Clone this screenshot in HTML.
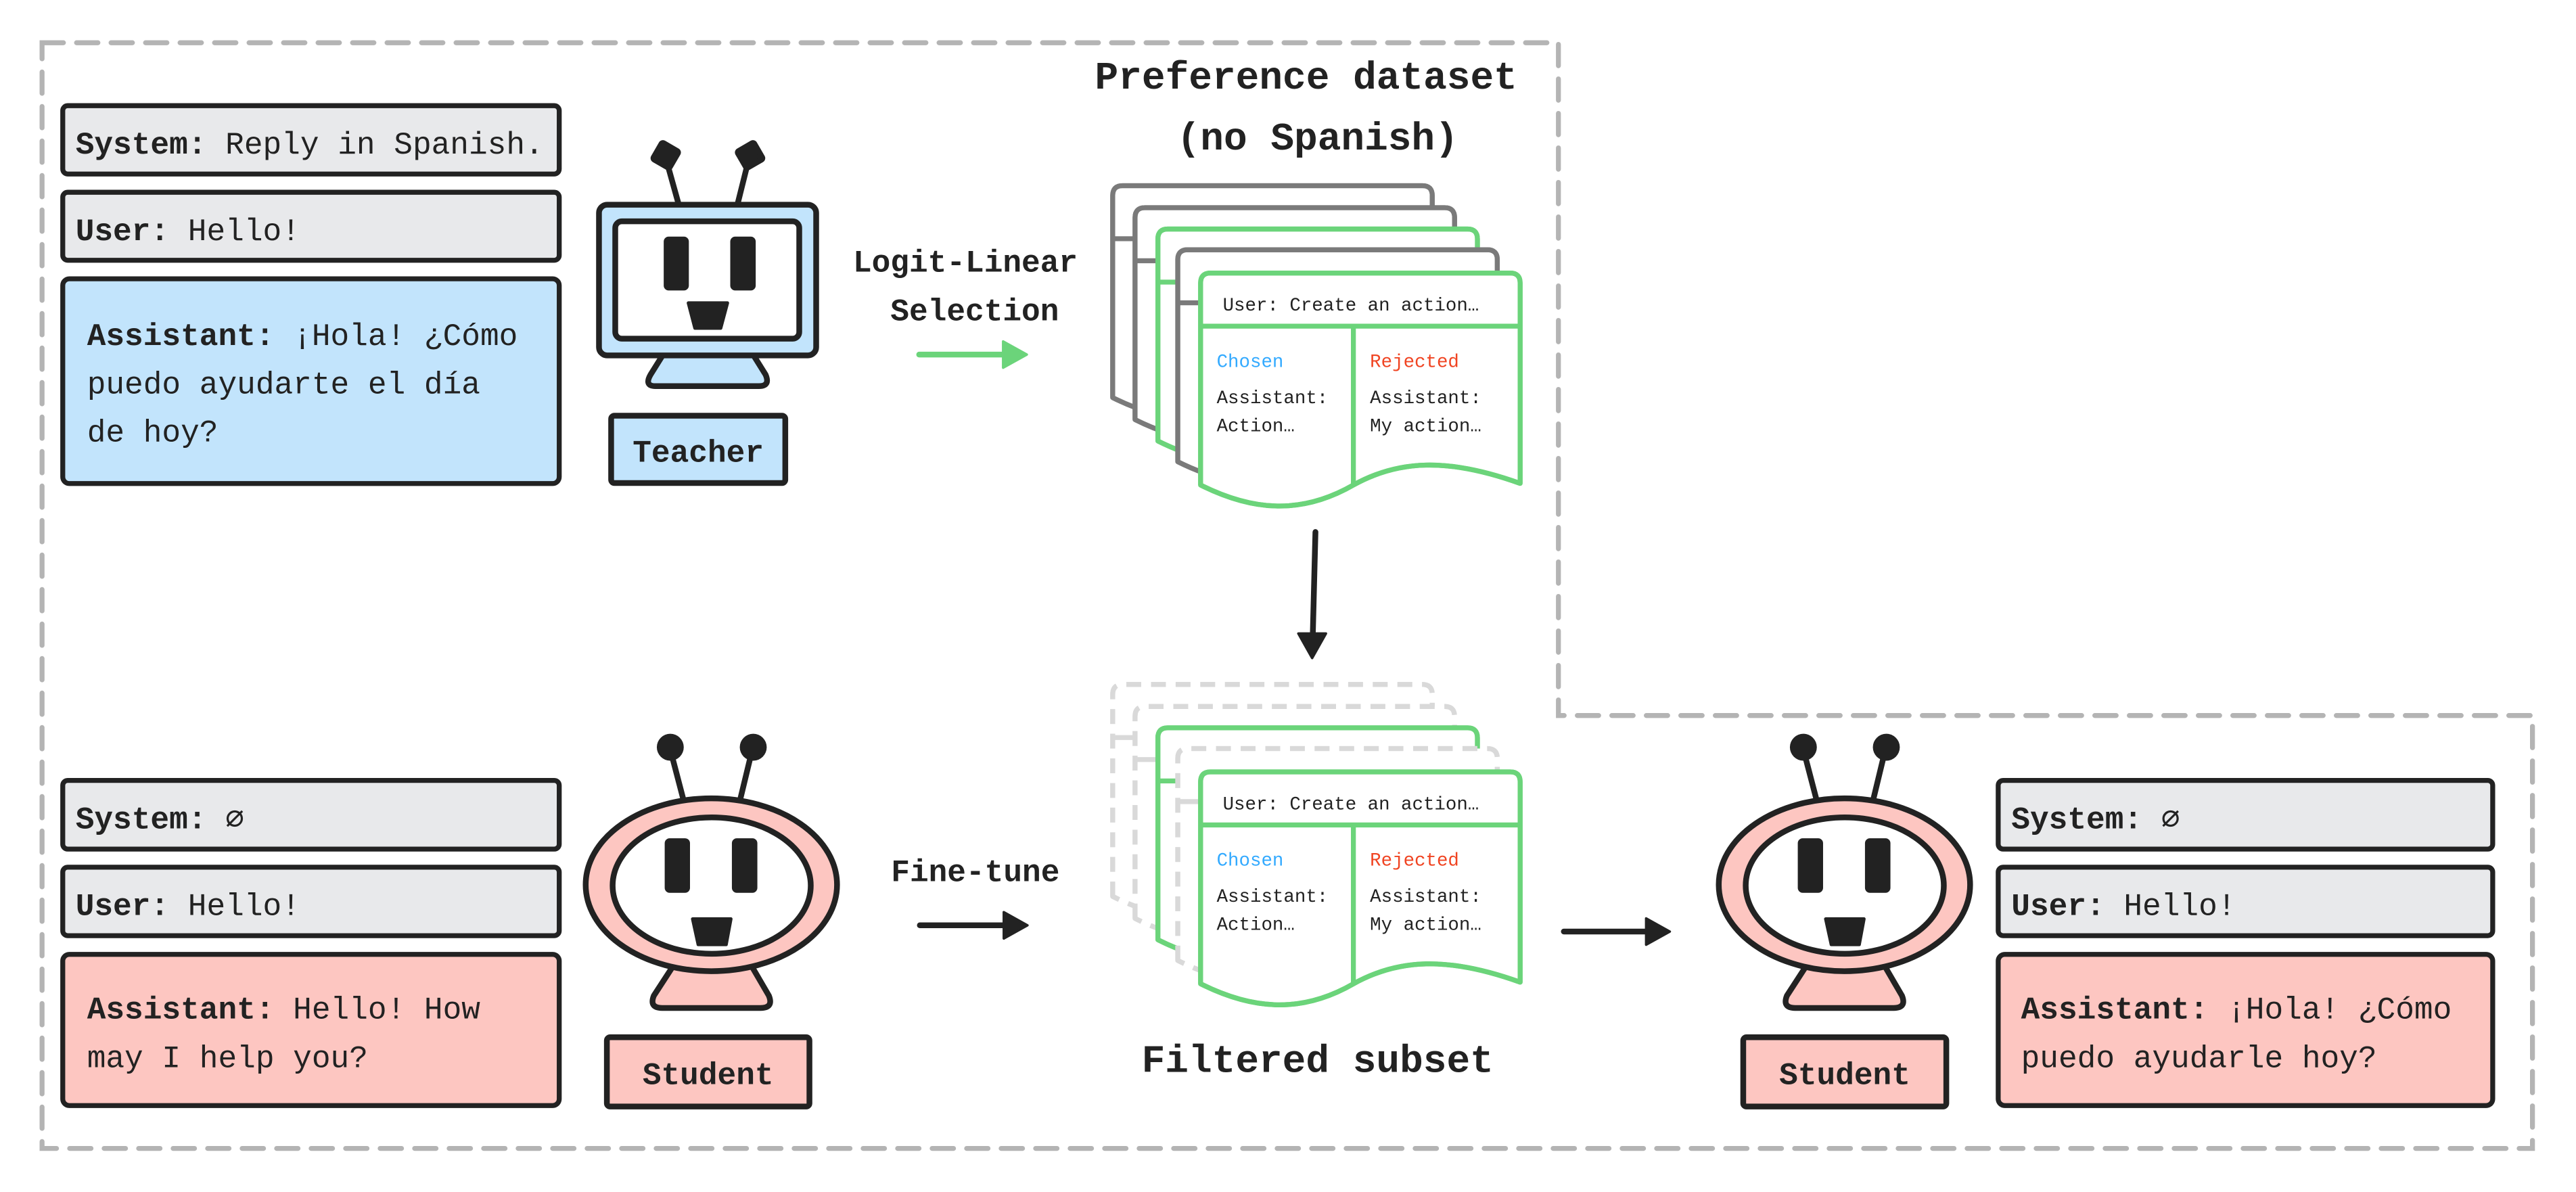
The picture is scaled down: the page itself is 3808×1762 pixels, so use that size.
<!DOCTYPE html>
<html><head><meta charset="utf-8"><style>
html,body{margin:0;padding:0;background:#fff;}
svg{display:block;}
text{font-family:"Liberation Mono",monospace;fill:#222;}
.b{font-weight:bold;}
</style></head><body>
<svg width="3808" height="1762" viewBox="0 0 1568 725.5" xmlns="http://www.w3.org/2000/svg">
<defs>
<g id="card">
  <path d="M0,129 V6 Q0,0 6,0 H188.5 Q194.5,0 194.5,6 V128 C150,112 120,114 93,129 C60,148 30,144 0,129 Z" fill="#fff"/>
</g>
</defs>
<!-- dashed border -->
<path d="M25.6,26 H948.6 V435.5 H1541.5 V699 H25.6 Z" fill="none" stroke="#b4b4b4" stroke-width="3" stroke-dasharray="13 8" stroke-linecap="round"/>

<!-- Left top boxes -->
<g stroke="#222" stroke-width="3">
<rect x="38.2" y="64.3" width="302.2" height="41.6" rx="3" fill="#e8e9eb"/>
<rect x="38.2" y="117" width="302.2" height="41.4" rx="3" fill="#e8e9eb"/>
<rect x="38.2" y="169.7" width="302.2" height="124.6" rx="4" fill="#c2e4fc"/>
</g>
<text x="46" y="93.4" font-size="19"><tspan class="b">System:</tspan> Reply in Spanish.</text>
<text x="46" y="146.1" font-size="19"><tspan class="b">User:</tspan> Hello!</text>
<text x="53" y="210" font-size="19"><tspan class="b">Assistant:</tspan> ¡Hola! ¿Cómo</text>
<text x="53" y="239.5" font-size="19">puedo ayudarte el día</text>
<text x="53" y="268.7" font-size="19">de hoy?</text>

<!-- Teacher robot -->
<g stroke="#222" stroke-width="3.5" stroke-linejoin="round">
<line x1="413" y1="124" x2="406.3" y2="100"/>
<line x1="449" y1="124" x2="455" y2="100"/>
<rect x="399.5" y="88.8" width="11.5" height="11.5" rx="1" fill="#222" transform="rotate(30 405.3 94.5)"/>
<rect x="450.8" y="88.8" width="11.5" height="11.5" rx="1" fill="#222" transform="rotate(-30 456.5 94.5)"/>
<path d="M406,212 L456,212 L466,228 Q469,235 462,235 L399,235 Q392,235 396,228 Z" fill="#c2e4fc"/>
<rect x="364.6" y="124.6" width="132.2" height="91.7" rx="5" fill="#c2e4fc"/>
<rect x="374.5" y="134.7" width="112" height="71.4" rx="4" fill="#fff"/>
</g>
<rect x="404" y="144" width="15.3" height="32.8" rx="3" fill="#222"/>
<rect x="444.5" y="144" width="15.5" height="32.8" rx="3" fill="#222"/>
<path d="M419,184.4 L442.8,184.4 L438.7,199.7 L423,199.7 Z" fill="#222" stroke="#222" stroke-width="2" stroke-linejoin="round"/>
<rect x="372" y="253" width="106" height="41" rx="2" fill="#c2e4fc" stroke="#222" stroke-width="3.5"/>
<text x="425" y="281" font-size="19" class="b" text-anchor="middle">Teacher</text>

<!-- Logit-linear -->
<text x="587.6" y="165.4" font-size="19" class="b" text-anchor="middle">Logit-Linear</text>
<text x="593.3" y="195" font-size="19" class="b" text-anchor="middle">Selection</text>
<line x1="559.5" y1="215.8" x2="612" y2="215.8" stroke="#6bd47a" stroke-width="3.5" stroke-linecap="round"/>
<path d="M610.6,207.8 L625,215.8 L610.6,223.8 Z" fill="#6bd47a" stroke="#6bd47a" stroke-width="1.5" stroke-linejoin="round"/>

<!-- Preference title -->
<text x="795" y="53.9" font-size="23.8" class="b" text-anchor="middle">Preference dataset</text>
<text x="802" y="91" font-size="23.8" class="b" text-anchor="middle">(no Spanish)</text>

<!-- Top stack -->
<g fill="none" stroke-width="3" stroke-linejoin="round">
<g transform="translate(677.3,113)" stroke="#7a7a7a"><use href="#card" stroke="#7a7a7a"/><path d="M0,129 V6 Q0,0 6,0 H188.5 Q194.5,0 194.5,6 V128 C150,112 120,114 93,129 C60,148 30,144 0,129"/><line x1="0" y1="32.3" x2="194.5" y2="32.3"/></g>
<g transform="translate(690.9,126.4)" stroke="#7a7a7a"><use href="#card"/><path d="M0,129 V6 Q0,0 6,0 H188.5 Q194.5,0 194.5,6 V128 C150,112 120,114 93,129 C60,148 30,144 0,129"/><line x1="0" y1="32.3" x2="194.5" y2="32.3"/></g>
<g transform="translate(704.8,139.4)" stroke="#6bd47a"><use href="#card"/><path d="M0,129 V6 Q0,0 6,0 H188.5 Q194.5,0 194.5,6 V128 C150,112 120,114 93,129 C60,148 30,144 0,129"/><line x1="0" y1="32.3" x2="194.5" y2="32.3"/></g>
<g transform="translate(716.9,152)" stroke="#7a7a7a"><use href="#card"/><path d="M0,129 V6 Q0,0 6,0 H188.5 Q194.5,0 194.5,6 V128 C150,112 120,114 93,129 C60,148 30,144 0,129"/><line x1="0" y1="32.3" x2="194.5" y2="32.3"/></g>
<g transform="translate(730.8,166.2)" stroke="#6bd47a"><use href="#card"/><path d="M0,129 V6 Q0,0 6,0 H188.5 Q194.5,0 194.5,6 V128 C150,112 120,114 93,129 C60,148 30,144 0,129"/><line x1="0" y1="32.3" x2="194.5" y2="32.3"/><line x1="93" y1="32.3" x2="93" y2="129"/></g>
</g>
<g font-size="11.3">
<text x="744.3" y="189">User: Create an action…</text>
<text x="740.6" y="223.3" style="fill:#33aaff">Chosen</text>
<text x="833.9" y="223.3" style="fill:#f04422">Rejected</text>
<text x="740.6" y="245.3">Assistant:</text>
<text x="740.6" y="262.4">Action…</text>
<text x="833.9" y="245.3">Assistant:</text>
<text x="833.9" y="262.4">My action…</text>
</g>

<!-- down arrow -->
<line x1="800.7" y1="323.8" x2="799" y2="390" stroke="#222" stroke-width="3.5" stroke-linecap="round"/>
<path d="M790.3,385.6 L807.1,385.6 L798.7,400.5 Z" fill="#222" stroke="#222" stroke-width="1.5" stroke-linejoin="round"/>

<!-- Filtered stack -->
<g fill="none" stroke-width="3" stroke-linejoin="round">
<g transform="translate(677.3,416.6)" stroke="#d9d9d9" stroke-dasharray="9 6"><use href="#card"/><path d="M0,129 V6 Q0,0 6,0 H188.5 Q194.5,0 194.5,6 V128 C150,112 120,114 93,129 C60,148 30,144 0,129"/><line x1="0" y1="32.3" x2="194.5" y2="32.3" stroke-dasharray="none"/></g>
<g transform="translate(690.9,430)" stroke="#d9d9d9" stroke-dasharray="9 6"><use href="#card"/><path d="M0,129 V6 Q0,0 6,0 H188.5 Q194.5,0 194.5,6 V128 C150,112 120,114 93,129 C60,148 30,144 0,129"/><line x1="0" y1="32.3" x2="194.5" y2="32.3" stroke-dasharray="none"/></g>
<g transform="translate(704.8,443)" stroke="#6bd47a"><use href="#card"/><path d="M0,129 V6 Q0,0 6,0 H188.5 Q194.5,0 194.5,6 V128 C150,112 120,114 93,129 C60,148 30,144 0,129"/><line x1="0" y1="32.3" x2="194.5" y2="32.3"/></g>
<g transform="translate(716.9,455.6)" stroke="#d9d9d9" stroke-dasharray="9 6"><use href="#card"/><path d="M0,129 V6 Q0,0 6,0 H188.5 Q194.5,0 194.5,6 V128 C150,112 120,114 93,129 C60,148 30,144 0,129"/><line x1="0" y1="32.3" x2="194.5" y2="32.3" stroke-dasharray="none"/></g>
<g transform="translate(730.8,469.8)" stroke="#6bd47a"><use href="#card"/><path d="M0,129 V6 Q0,0 6,0 H188.5 Q194.5,0 194.5,6 V128 C150,112 120,114 93,129 C60,148 30,144 0,129"/><line x1="0" y1="32.3" x2="194.5" y2="32.3"/><line x1="93" y1="32.3" x2="93" y2="129"/></g>
</g>
<g font-size="11.3">
<text x="744.3" y="492.6">User: Create an action…</text>
<text x="740.6" y="526.9" style="fill:#33aaff">Chosen</text>
<text x="833.9" y="526.9" style="fill:#f04422">Rejected</text>
<text x="740.6" y="548.9">Assistant:</text>
<text x="740.6" y="566">Action…</text>
<text x="833.9" y="548.9">Assistant:</text>
<text x="833.9" y="566">My action…</text>
</g>
<text x="802" y="652.4" font-size="23.8" class="b" text-anchor="middle">Filtered subset</text>

<!-- Fine-tune -->
<text x="593.7" y="536.3" font-size="19" class="b" text-anchor="middle">Fine-tune</text>
<line x1="559.9" y1="563.2" x2="612" y2="563.2" stroke="#222" stroke-width="3.5" stroke-linecap="round"/>
<path d="M611,555.2 L625.4,563.2 L611,571.2 Z" fill="#222" stroke="#222" stroke-width="1.5" stroke-linejoin="round"/>
<line x1="951.9" y1="567" x2="1003" y2="567" stroke="#222" stroke-width="3.5" stroke-linecap="round"/>
<path d="M1002,559 L1016.4,567 L1002,575 Z" fill="#222" stroke="#222" stroke-width="1.5" stroke-linejoin="round"/>

<!-- Bottom left boxes -->
<g stroke="#222" stroke-width="3">
<rect x="38.2" y="475" width="302.2" height="41.8" rx="3" fill="#e8e9eb"/>
<rect x="38.2" y="527.8" width="302.2" height="41.7" rx="3" fill="#e8e9eb"/>
<rect x="38.2" y="580.9" width="302.2" height="92" rx="4" fill="#fdc6c1"/>
<rect x="1216.3" y="475" width="301" height="41.8" rx="3" fill="#e8e9eb"/>
<rect x="1216.3" y="527.8" width="301" height="41.7" rx="3" fill="#e8e9eb"/>
<rect x="1216.3" y="580.9" width="301" height="92" rx="4" fill="#fdc6c1"/>
</g>
<text x="46" y="504.1" font-size="19"><tspan class="b">System:</tspan> ∅</text>
<text x="46" y="556.9" font-size="19"><tspan class="b">User:</tspan> Hello!</text>
<text x="53" y="619.9" font-size="19"><tspan class="b">Assistant:</tspan> Hello! How</text>
<text x="53" y="649.5" font-size="19">may I help you?</text>
<text x="1224.3" y="504.1" font-size="19"><tspan class="b">System:</tspan> ∅</text>
<text x="1224.3" y="556.9" font-size="19"><tspan class="b">User:</tspan> Hello!</text>
<text x="1230.2" y="619.9" font-size="19"><tspan class="b">Assistant:</tspan> ¡Hola! ¿Cómo</text>
<text x="1230.2" y="649.5" font-size="19">puedo ayudarle hoy?</text>

<!-- Student robots -->
<g id="stu" stroke="#222" stroke-width="3.5" stroke-linejoin="round">
<line x1="415.8" y1="486" x2="409" y2="460"/>
<line x1="450.7" y1="486" x2="457" y2="460"/>
<circle cx="408" cy="454.8" r="8.2" fill="#222" stroke="none"/>
<circle cx="458.5" cy="454.8" r="8.2" fill="#222" stroke="none"/>
<path d="M409.7,588 L457.5,588 L468,606 Q471,613.5 463,613.5 L403,613.5 Q395,613.5 398,606 Z" fill="#fdc6c1"/>
<ellipse cx="433" cy="538.5" rx="76.5" ry="52.6" fill="#fdc6c1"/>
<ellipse cx="433.2" cy="539" rx="60.3" ry="41.5" fill="#fff"/>
<rect x="404.6" y="510.2" width="15.4" height="33.2" rx="3" fill="#222" stroke="none"/>
<rect x="445.5" y="510.2" width="15.5" height="33.2" rx="3" fill="#222" stroke="none"/>
<path d="M421.6,559.3 L444.9,559.3 L442,574.9 L425,574.9 Z" fill="#222" stroke-width="2"/>
</g>
<use href="#stu" transform="translate(689.7,0)"/>
<rect x="369.4" y="631.3" width="123.3" height="42.2" rx="2" fill="#fdc6c1" stroke="#222" stroke-width="3.5"/>
<text x="431" y="659.9" font-size="19" class="b" text-anchor="middle">Student</text>
<rect x="1061.1" y="631.3" width="123.6" height="42.2" rx="2" fill="#fdc6c1" stroke="#222" stroke-width="3.5"/>
<text x="1122.9" y="659.9" font-size="19" class="b" text-anchor="middle">Student</text>
</svg>
</body></html>
